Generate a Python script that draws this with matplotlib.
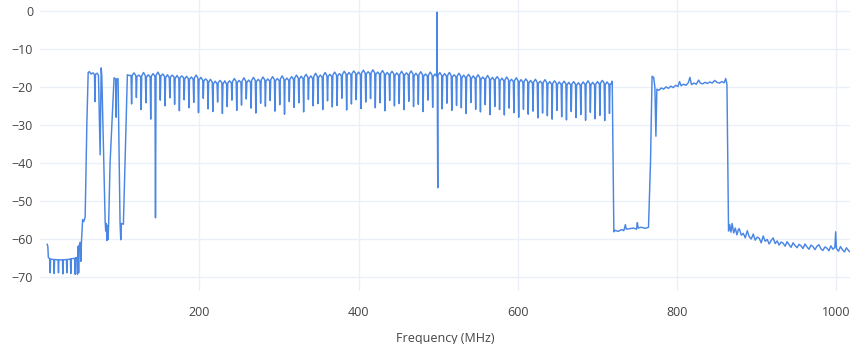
import numpy as np
import matplotlib.pyplot as plt

# low band, 9 - 110 MHz (MHz, dB)
low_f = [9.0, 9.8, 10.5, 12.3, 12.8, 13.3, 17.3, 17.8, 18.3, 22.7, 23.2, 23.7,
         28.2, 28.7, 29.2, 33.2, 33.7, 34.2, 38.2, 38.7, 39.2, 43.7, 44.2, 44.7,
         46.5, 47.0, 47.5, 48.0, 48.5, 49.0, 50.5, 51.2, 52.0, 53.5, 55.0, 56.7,
         58.8, 60.5, 62.0, 64.0, 66.5, 68.4, 69.0, 69.6, 71.5, 73.4, 75.5, 76.8,
         77.6, 81.8, 82.5, 83.2, 84.0, 84.8, 85.5, 86.2, 88.0, 93.0, 95.0, 95.6,
         96.2, 98.0, 100.5, 101.4, 102.2, 104.7, 109.7, 112.0]
low_db = [-61.5, -62.0, -65.0, -65.3, -69.0, -65.4, -65.5, -69.2, -65.5, -65.6, -69.0, -65.6,
          -65.6, -69.3, -65.6, -65.5, -69.0, -65.5, -65.4, -69.2, -65.3, -65.2, -69.4, -65.0,
          -65.0, -69.4, -64.5, -62.0, -69.0, -62.0, -61.0, -66.0, -61.0, -55.0, -55.5, -54.3,
          -30.0, -16.2, -16.0, -16.6, -16.3, -16.8, -23.9, -16.7, -16.4, -16.9, -37.9, -15.0,
          -17.0, -55.5, -58.0, -56.0, -60.5, -56.5, -60.2, -56.0, -40.0, -17.6, -17.9, -28.0,
          -18.0, -17.8, -55.8, -60.3, -56.0, -56.2, -16.8, -17.0]

# TV channels: dip, level right after the dip, level mid channel
ch_dip_f = [115, 121, 127, 133, 139, 145, 151, 157, 163, 169, 175, 181, 187, 193, 199,
            205, 211, 217, 223, 229, 235, 241, 247, 253, 259, 265, 271, 277, 283, 289,
            295, 301, 307, 313, 319, 325, 331, 337, 343, 349, 355, 361, 367, 373, 379,
            385, 391, 397, 403, 409, 415, 421, 427, 433, 439, 445, 451, 457, 463, 469,
            475, 481, 487, 493, 499, 505, 511, 517, 523, 529, 535, 541, 547, 553, 559,
            565, 571, 577, 583, 589, 595, 601, 607, 613, 619, 625, 631, 637, 643, 649,
            655, 661, 667, 673, 679, 685, 691, 697, 703, 709, 715]
ch_dip_db = [-24.5, -22.8, -26.0, -24.2, -28.5, -54.5, -23.5, -25.0, -22.9, -24.6, -26.3,
             -23.4, -25.5, -24.1, -26.8, -23.0, -25.8, -26.5, -24.0, -27.0, -25.2, -23.5,
             -26.2, -24.8, -23.2, -25.6, -26.9, -24.3, -25.1, -23.6, -26.4, -24.7, -27.2,
             -23.9, -25.4, -24.2, -26.6, -23.3, -25.0, -24.4, -26.0, -23.7, -25.3, -24.9,
             -23.0, -26.1, -24.5, -23.4, -25.7, -24.0, -23.1, -25.5, -24.2, -26.3, -23.6,
             -25.0, -24.4, -26.0, -23.8, -25.2, -24.6, -26.5, -23.5, -25.4, -30.0, -25.8,
             -24.3, -26.2, -24.9, -25.5, -27.0, -24.1, -25.9, -26.6, -24.7, -27.3, -25.2,
             -26.0, -27.4, -25.6, -26.8, -28.0, -25.9, -27.2, -26.4, -28.2, -26.9, -27.6,
             -28.5, -26.2, -27.9, -28.7, -26.5, -28.1, -27.3, -28.8, -26.7, -28.4, -27.5,
             -28.9, -27.0]
ch_top_db = [-17.0, -17.3, -17.1, -17.4, -17.2, -17.0, -17.2, -17.6, -17.4, -17.8, -17.6,
             -17.9, -18.0, -17.7, -18.2, -18.4, -18.8, -19.2, -18.9, -19.3, -19.0, -18.6,
             -18.9, -18.5, -18.8, -18.3, -18.6, -18.2, -18.5, -18.1, -18.4, -18.0, -18.3,
             -18.0, -17.7, -17.9, -17.5, -17.8, -17.3, -17.5, -17.1, -17.3, -16.9, -17.1,
             -16.7, -16.9, -16.5, -16.8, -16.4, -16.6, -16.3, -16.7, -16.5, -16.9, -16.6,
             -17.0, -16.7, -16.9, -16.6, -17.1, -16.8, -17.2, -16.9, -17.3, -17.0, -17.2,
             -17.0, -17.4, -17.2, -17.6, -17.4, -17.8, -17.6, -18.0, -17.8, -18.2, -18.0,
             -18.4, -18.2, -18.6, -18.4, -18.8, -18.6, -19.0, -18.8, -19.1, -18.9, -19.3,
             -19.1, -19.4, -19.2, -19.5, -19.3, -19.6, -19.4, -19.2, -19.5, -19.3, -19.0,
             -19.4, -19.2]
ch_mid_db = [-16.3, -16.9, -16.2, -16.8, -16.5, -16.1, -16.6, -16.8, -16.9, -17.0,
             -17.1, -17.2, -17.4, -16.9, -17.5, -17.9, -18.0, -18.5, -18.3, -18.4,
             -18.4, -17.8, -18.3, -17.6, -18.2, -17.5, -18.0, -17.4, -17.9, -17.3,
             -17.8, -17.1, -17.7, -17.3, -16.9, -17.2, -16.7, -17.1, -16.4, -16.9,
             -16.2, -16.7, -16.1, -16.5, -15.9, -16.2, -15.8, -16.1, -15.6, -16.0,
             -15.5, -16.1, -15.7, -16.2, -15.9, -16.3, -15.9, -16.3, -15.8, -16.4,
             -16.0, -16.6, -16.1, -16.6, -16.2, -16.5, -16.2, -16.8, -16.4, -16.9,
             -16.7, -17.1, -16.8, -17.4, -17.0, -17.5, -17.3, -17.7, -17.4, -18.0,
             -17.6, -18.1, -17.9, -18.3, -18.0, -18.5, -18.1, -18.6, -18.4, -18.7,
             -18.5, -18.8, -18.6, -18.9, -18.7, -18.4, -18.8, -18.6, -18.3, -18.7,
             -18.5]

# carrier spike near 500 MHz
spike_f = [498.6, 499.4]
spike_db = [-0.3, -46.6]

# high band, 717 - 1016 MHz
hi_f = [717.5, 718.5, 720.5, 722, 726, 730, 733, 735, 736, 740, 745, 749, 750, 751, 755,
        760, 764, 766.5, 768.5, 770.5, 772, 773.3, 774.5, 777, 780, 783, 786, 789, 792,
        795, 798, 801, 803, 805, 808, 811, 814, 816, 818, 821, 824, 827, 829, 832, 835,
        838, 841, 844, 847, 850, 853, 856, 859, 861, 862.5, 864.5, 866, 867.5, 869, 871,
        873, 875, 877, 878, 880.5, 883, 885.5, 888, 890.5, 893, 895.5, 898, 900.5, 903,
        905.5, 908, 910.5, 913, 915.5, 918, 920.5, 923, 925.5, 928, 930.5, 933, 935.5,
        938, 940.5, 943, 945.5, 948, 950.5, 953, 955.5, 958, 960.5, 963, 965.5, 968,
        970.5, 973, 975.5, 978, 980.5, 983, 985.5, 988, 990.5, 993, 995.5, 998, 999,
        1000, 1002.5, 1005, 1007.5, 1010, 1012.5, 1015, 1016.5]
hi_db = [-19.3, -19.6, -58.2, -57.8, -58.1, -57.6, -57.9, -56.3, -57.5, -57.4, -57.2,
         -57.5, -55.8, -57.2, -57.0, -57.3, -57.0, -40.0, -17.2, -17.5, -20.0, -33.0,
         -20.6, -20.9, -20.3, -20.6, -20.0, -20.4, -19.8, -20.2, -19.6, -19.9, -18.6,
         -19.7, -19.3, -19.6, -18.9, -17.5, -19.4, -19.0, -19.3, -18.2, -19.0, -19.2,
         -18.8, -19.1, -18.7, -19.0, -18.3, -18.8, -19.0, -18.6, -18.9, -17.8, -19.3,
         -58.0, -56.3, -58.3, -56.0, -58.5, -57.2, -59.0, -57.5,
         -57.4, -59.1, -58.6, -59.8, -57.9, -59.5, -60.1, -58.8, -60.4, -59.6,
         -59.9, -61.1, -59.3, -60.7, -60.2, -61.4, -60.5, -59.8, -61.3, -60.6,
         -61.7, -60.9, -61.2, -62.0, -60.8, -61.6, -62.3, -61.1, -61.8, -62.4,
         -61.5, -61.9, -62.6, -61.4, -62.2, -62.8, -61.7, -62.1, -62.9, -62.0,
         -61.6, -62.7, -63.1, -62.2, -62.5, -63.2, -61.9, -62.8, -62.3, -58.2,
         -62.6, -63.3, -62.1, -62.9, -63.5, -62.4, -63.1, -63.4]

yticks = [0, -10, -20, -30, -40, -50, -60, -70]
xticks = [200, 400, 600, 800, 1000]


# channel trace: edge before dip, dip, edge after dip, mid channel
ch_f, ch_db = [], []
prev = -17.0
for d, v, t, m in zip(ch_dip_f, ch_dip_db, ch_top_db, ch_mid_db):
    ch_f += [d - 0.7, d, d + 0.7, d + 3.0]
    ch_db += [prev, v, t, m]
    prev = t

freq = np.array(low_f + ch_f + spike_f + hi_f, dtype=float)
level = np.array(low_db + ch_db + spike_db + hi_db, dtype=float)
order = np.argsort(freq, kind="stable")
freq, level = freq[order], level[order]

plt.rcParams['font.family'] = ['Open Sans', 'DejaVu Sans']

fig = plt.figure(figsize=(8.5, 3.44), dpi=100)
ax = fig.add_axes([40/850, 53/344, 810/850, 291/344])

ax.plot(freq, level, color='#4a86e3', linewidth=1.05)

ax.set_xlim(0, 1017)
ax.set_ylim(-73.8, 2.9)
ax.set_xticks(xticks)
ax.set_yticks(yticks)
ax.set_yticklabels([str(v).replace('-', '\u2212') for v in yticks])
ax.grid(True, color='#ebf0f8', linewidth=1)
ax.set_axisbelow(True)
for s in ax.spines.values():
    s.set_visible(False)
ax.tick_params(length=0, labelsize=9, colors='#444444')
ax.tick_params(axis='x', pad=11)
ax.tick_params(axis='y', pad=5)
ax.set_xlabel('Frequency (MHz)', fontsize=9, color='#444444', labelpad=9)

plt.savefig('out.png', dpi=100)
